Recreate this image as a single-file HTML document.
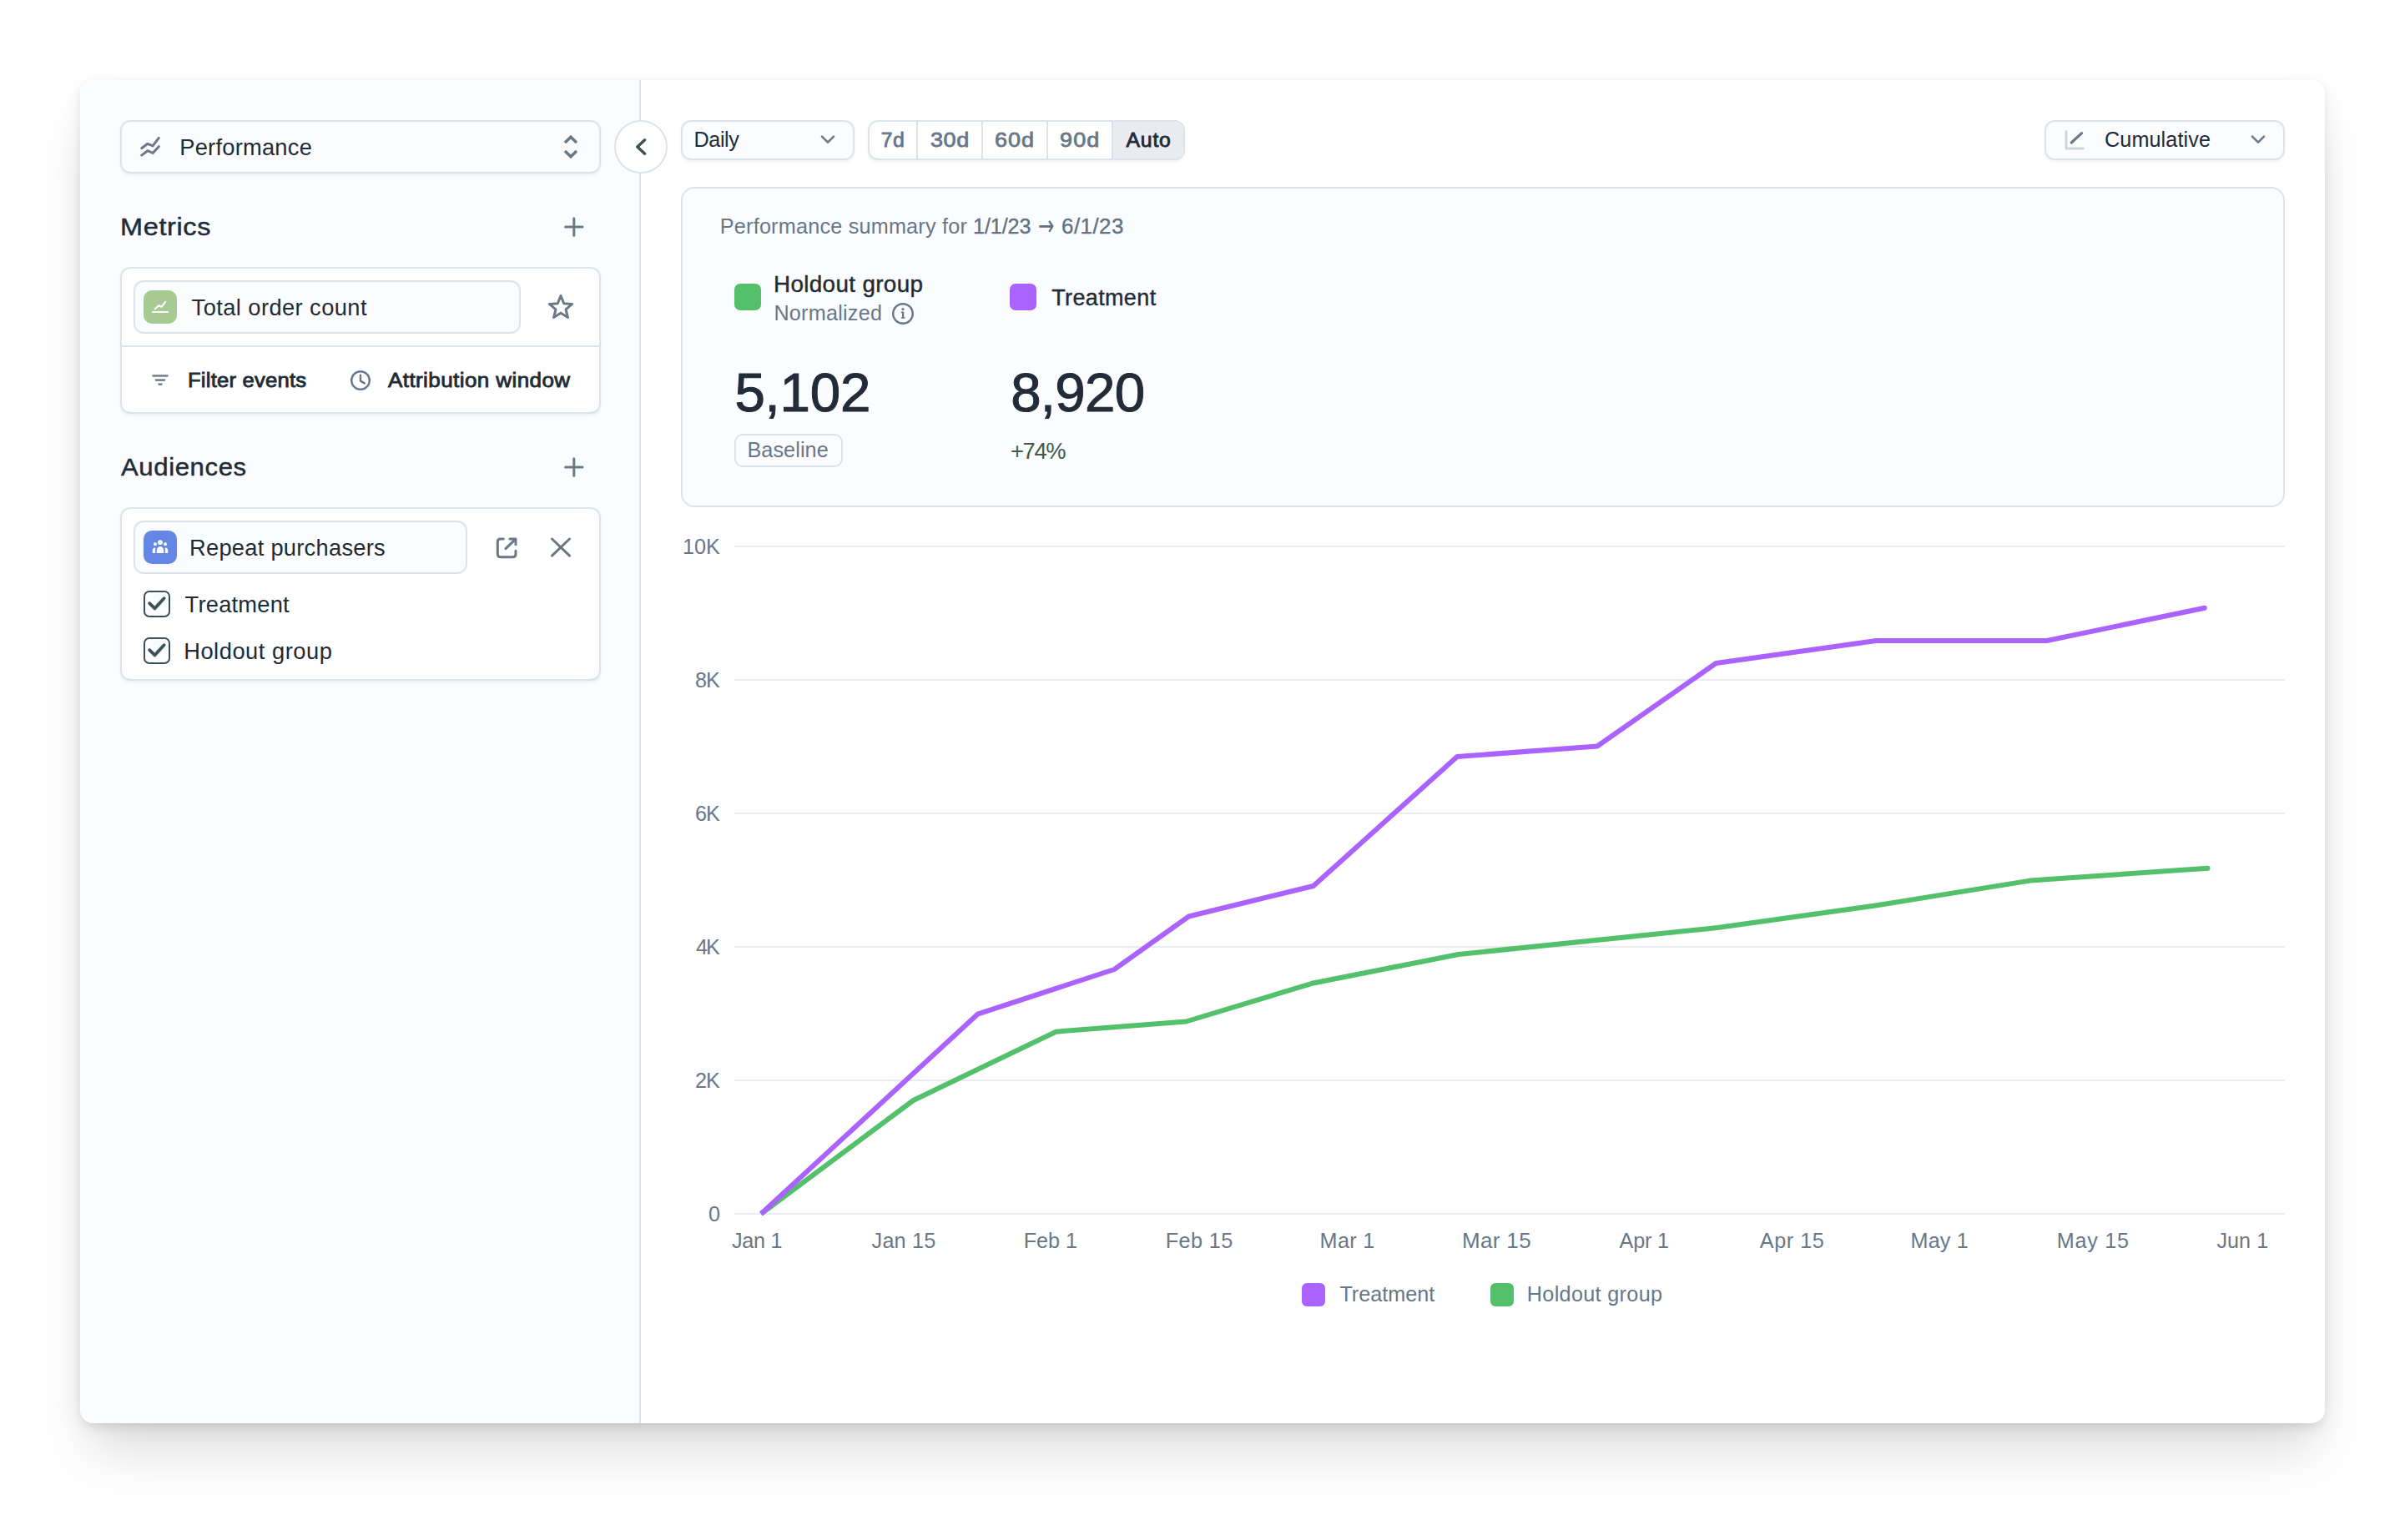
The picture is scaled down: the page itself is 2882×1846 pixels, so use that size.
<!DOCTYPE html><html><head><meta charset="utf-8"><title>Performance</title><style>
html,body{margin:0;padding:0;background:#fff;}
body{width:2882px;height:1846px;position:relative;overflow:hidden;font-family:"Liberation Sans",sans-serif;}
.b{position:absolute;box-sizing:border-box;}
.t{position:absolute;white-space:nowrap;}
.ov{position:absolute;left:0;top:0;}
.bd{border:2px solid #dde3ea;}
</style></head><body>
<div class="b" style="left:96px;top:96px;width:2690px;height:1610px;border-radius:16px;background:#fff;box-shadow:0 4px 10px rgba(0,0,0,.07),0 6px 24px rgba(0,0,0,.06),0 44px 64px -12px rgba(0,0,0,.14);"></div>
<div class="b" style="left:96px;top:96px;width:672px;height:1610px;border-radius:16px 0 0 16px;background:#fbfcfe;border-right:2px solid #dde3ea;"></div>
<div class="b" style="left:144px;top:144px;width:576px;height:64px;border:2px solid #dde3ea;border-radius:12px;background:#fbfcfe;box-shadow:0 2px 3px rgba(16,24,40,0.05);"></div>
<div class="b" style="left:736px;top:144px;width:64px;height:64px;border:2px solid #dde3ea;border-radius:50%;background:#fff;"></div>
<div class="b" style="left:144px;top:320px;width:576px;height:176px;border:2px solid #dde3ea;border-radius:12px;background:#fff;box-shadow:0 2px 3px rgba(16,24,40,0.05);"></div>
<div class="b" style="left:146px;top:414px;width:572px;height:2px;background:#dde3ea;"></div>
<div class="b" style="left:160px;top:336px;width:464px;height:64px;border:2px solid #dde3ea;border-radius:12px;background:#fbfcfe;"></div>
<div class="b" style="left:172px;top:348px;width:40px;height:40px;border-radius:10px;background:#a6ca92;"></div>
<div class="b" style="left:144px;top:608px;width:576px;height:208px;border:2px solid #dde3ea;border-radius:12px;background:#fff;box-shadow:0 2px 3px rgba(16,24,40,0.05);"></div>
<div class="b" style="left:160px;top:624px;width:400px;height:64px;border:2px solid #dde3ea;border-radius:12px;background:#fbfcfe;"></div>
<div class="b" style="left:172px;top:636px;width:40px;height:40px;border-radius:10px;background:#6487e6;"></div>
<div class="b" style="left:172px;top:708px;width:32px;height:32px;border:2.4px solid #3d5159;border-radius:7px;background:#fafbfc;"></div>
<div class="b" style="left:172px;top:764px;width:32px;height:32px;border:2.4px solid #3d5159;border-radius:7px;background:#fafbfc;"></div>
<div class="b" style="left:816px;top:144px;width:208px;height:48px;border:2px solid #dde3ea;border-radius:12px;background:#fbfcfe;box-shadow:0 2px 3px rgba(16,24,40,0.05);"></div>
<div class="b" style="left:1040px;top:144px;width:380px;height:48px;border:2px solid #dde3ea;border-radius:12px;background:#fff;overflow:hidden;box-shadow:0 2px 3px rgba(16,24,40,0.05);"></div>
<div class="b" style="left:1333px;top:146px;width:85px;height:44px;background:#e9edf2;border-radius:0 10px 10px 0;"></div>
<div class="b" style="left:1098px;top:146px;width:2px;height:44px;background:#dde3ea;"></div>
<div class="b" style="left:1176px;top:146px;width:2px;height:44px;background:#dde3ea;"></div>
<div class="b" style="left:1254px;top:146px;width:2px;height:44px;background:#dde3ea;"></div>
<div class="b" style="left:1332px;top:146px;width:2px;height:44px;background:#dde3ea;"></div>
<div class="b" style="left:2450px;top:144px;width:288px;height:48px;border:2px solid #dde3ea;border-radius:12px;background:#fbfcfe;box-shadow:0 2px 3px rgba(16,24,40,0.05);"></div>
<div class="b" style="left:816px;top:224px;width:1922px;height:384px;border:2px solid #dde3ea;border-radius:16px;background:#fbfcfe;"></div>
<div class="b" style="left:880px;top:340px;width:32px;height:32px;border-radius:7px;background:#53c06b;"></div>
<div class="b" style="left:1210px;top:340px;width:32px;height:32px;border-radius:7px;background:#ab63ff;"></div>
<div class="b" style="left:880px;top:520px;width:130px;height:40px;border:2px solid #dde3ea;border-radius:10px;background:#fbfcfe;"></div>
<div class="b" style="left:1560px;top:1538px;width:28px;height:28px;border-radius:6px;background:#ab63ff;"></div>
<div class="b" style="left:1786px;top:1538px;width:28px;height:28px;border-radius:6px;background:#53c06b;"></div>
<svg class="ov" width="2882" height="1846" viewBox="0 0 2882 1846" fill="none">
<rect x="880" y="654" width="1858" height="2" fill="#e8ecf1"/>
<rect x="880" y="814" width="1858" height="2" fill="#e8ecf1"/>
<rect x="880" y="974" width="1858" height="2" fill="#e8ecf1"/>
<rect x="880" y="1134" width="1858" height="2" fill="#e8ecf1"/>
<rect x="880" y="1294" width="1858" height="2" fill="#e8ecf1"/>
<rect x="880" y="1454" width="1858" height="2" fill="#e8ecf1"/>
<polyline points="912,1455 1094.5,1319 1265.4,1236.7 1421.4,1224.5 1572.2,1178.8 1747.8,1144 2058.2,1112 2247.3,1085.5 2432.7,1055.6 2645.5,1040.7" stroke="#53c06b" stroke-width="6" stroke-linejoin="round" stroke-linecap="butt"/>
<polyline points="912,1455 1171.5,1215.7 1335.3,1162 1424.5,1098.5 1573.9,1062 1746.1,907 1914,894.5 2056.3,795 2248.4,768 2452.7,768 2641.8,728.7" stroke="#ab63ff" stroke-width="6" stroke-linejoin="round" stroke-linecap="butt"/>
<circle cx="2641.8" cy="728.7" r="3" fill="#ab63ff"/><circle cx="2645.5" cy="1040.7" r="3" fill="#53c06b"/>
<g stroke="#6b7887" stroke-width="3" stroke-linecap="round" stroke-linejoin="round"><polyline points="169.7,177.7 176.9,172.3 183.1,174.9 190.3,165.4"/><polyline points="169.7,186.1 176.9,180.7 183.1,183.5 190.3,175.7"/></g>
<g stroke="#6b7887" stroke-width="3.4" stroke-linejoin="miter"><polyline points="677,171 684,164.2 691,171"/><polyline points="677,181 684,187.8 691,181"/></g>
<polyline points="772.6,167.8 763.8,176 772.6,184.2" stroke="#3d5159" stroke-width="3.4" stroke-linecap="round" stroke-linejoin="round"/>
<g stroke="#6b7887" stroke-width="3" stroke-linecap="round"><line x1="677.6" y1="272" x2="698" y2="272"/><line x1="687.8" y1="261.8" x2="687.8" y2="282.2"/></g>
<g stroke="#6b7887" stroke-width="3" stroke-linecap="round"><line x1="677.6" y1="560" x2="698" y2="560"/><line x1="687.8" y1="549.8" x2="687.8" y2="570.2"/></g>
<g stroke="#fff" stroke-width="2.2" stroke-linecap="round" stroke-linejoin="round"><polyline points="185.8,370.2 190.3,366.2 193.6,367.8 198.2,361.8"/></g><rect x="182" y="373" width="20" height="2" fill="#fff"/>
<polygon points="672.0,354.5 675.7,363.8 685.7,364.45 677.99,370.85 680.46,380.55 672.0,375.2 663.54,380.55 666.01,370.85 658.3,364.45 668.3,363.8" stroke="#6b7887" stroke-width="3" stroke-linejoin="round"/>
<g stroke="#6b7887" stroke-width="2.4" stroke-linecap="butt"><line x1="182.5" y1="450.5" x2="201.5" y2="450.5"/><line x1="186" y1="455.6" x2="198" y2="455.6"/><line x1="189.6" y1="460.6" x2="194.4" y2="460.6"/></g>
<g stroke="#6b7887" stroke-width="2.4" stroke-linecap="round" stroke-linejoin="round"><circle cx="432" cy="456" r="10.8"/><polyline points="432,449.8 432,456.6 436.8,459.4"/></g>
<g fill="#fff"><circle cx="192" cy="650.2" r="2.9"/><circle cx="185.9" cy="652.3" r="2"/><circle cx="198.1" cy="652.3" r="2"/><path d="M187.8 663.1 V659.5 A4.2 4.4 0 0 1 196.2 659.5 V663.1 Z"/><path d="M182.8 663.1 V659 Q183 657 186.1 656.2 V663.1 Z"/><path d="M201.2 663.1 V659 Q201 657 197.9 656.2 V663.1 Z"/></g>
<g stroke="#6b7887" stroke-width="3" stroke-linecap="round" stroke-linejoin="round"><path d="M603.3 646 H599.8 Q596.3 646 596.3 649.5 V664.2 Q596.3 667.7 599.8 667.7 H614.5 Q618 667.7 618 664.2 V660.2"/><polyline points="611,646 618,646 618,652.8"/><line x1="617.4" y1="646.6" x2="606" y2="657.6"/></g>
<g stroke="#6b7887" stroke-width="3" stroke-linecap="round"><line x1="661.5" y1="646" x2="682.5" y2="666.2"/><line x1="682.5" y1="646" x2="661.5" y2="666.2"/></g>
<polyline points="179.2,723.2 185.4,729.4 196.6,717.2" stroke="#3d5159" stroke-width="3.8" stroke-linecap="round" stroke-linejoin="round"/>
<polyline points="179.2,779.2 185.4,785.4 196.6,773.2" stroke="#3d5159" stroke-width="3.8" stroke-linecap="round" stroke-linejoin="round"/>
<polyline points="985,163.70000000000002 992,170.70000000000002 999,163.70000000000002" stroke="#6b7887" stroke-width="2.6" stroke-linecap="round" stroke-linejoin="round"/>
<polyline points="2699,163.6 2706,170.6 2713,163.6" stroke="#6b7887" stroke-width="2.6" stroke-linecap="round" stroke-linejoin="round"/>
<polyline points="2476,157.5 2476,178 2496.5,178" stroke="#cfd7d6" stroke-width="3" stroke-linecap="round" stroke-linejoin="round"/>
<line x1="2482.2" y1="171" x2="2494.6" y2="159.6" stroke="#6b7887" stroke-width="3.2" stroke-linecap="round"/>
<circle cx="1082" cy="376" r="11.8" stroke="#6b7887" stroke-width="2.4"/><g fill="#6b7887"><circle cx="1082" cy="370.6" r="1.6"/><path d="M1079.8 373.6 H1083.2 V380.2 H1084.6 V381.8 H1079.8 V380.2 H1081 V375.2 H1079.8 Z"/></g>
</svg>
<span class="t" id="t_perf" style="left:215.20px;top:163.00px;font-size:27.3px;line-height:27.3px;letter-spacing:0.240px;color:#212b36;">Performance</span>
<span class="t" id="t_metrics" style="left:143.60px;top:257.00px;font-size:29.8px;line-height:29.8px;letter-spacing:0.583px;color:#212b36;-webkit-text-stroke:0.45px;transform:scaleX(1.09);transform-origin:0 0;">Metrics</span>
<span class="t" id="t_toc" style="left:229.60px;top:355.00px;font-size:27.3px;line-height:27.3px;letter-spacing:0.412px;color:#212b36;">Total order count</span>
<span class="t" id="t_filter" style="left:224.80px;top:444.00px;font-size:24.8px;line-height:24.8px;letter-spacing:0.183px;color:#212b36;-webkit-text-stroke:0.85px;transform:scaleX(1.035);transform-origin:0 0;">Filter events</span>
<span class="t" id="t_attr" style="left:465.40px;top:444.00px;font-size:24.8px;line-height:24.8px;letter-spacing:0.382px;color:#212b36;-webkit-text-stroke:0.85px;transform:scaleX(1.05);transform-origin:0 0;">Attribution window</span>
<span class="t" id="t_aud" style="left:145.20px;top:545.00px;font-size:29.8px;line-height:29.8px;letter-spacing:0.563px;color:#212b36;-webkit-text-stroke:0.45px;transform:scaleX(1.045);transform-origin:0 0;">Audiences</span>
<span class="t" id="t_rp" style="left:227.00px;top:643.00px;font-size:27.3px;line-height:27.3px;letter-spacing:0.256px;color:#212b36;">Repeat purchasers</span>
<span class="t" id="t_treat1" style="left:221.60px;top:711.00px;font-size:27.3px;line-height:27.3px;letter-spacing:0.212px;color:#212b36;">Treatment</span>
<span class="t" id="t_hold1" style="left:220.20px;top:767.00px;font-size:27.3px;line-height:27.3px;letter-spacing:0.517px;color:#212b36;">Holdout group</span>
<span class="t" id="t_daily" style="left:831.60px;top:155.00px;font-size:25.2px;line-height:25.2px;letter-spacing:-0.450px;color:#212b36;">Daily</span>
<span class="t" id="t_b7" style="left:1055.80px;top:156.00px;font-size:24.8px;line-height:24.8px;letter-spacing:0.400px;color:#687788;-webkit-text-stroke:0.8px;">7d</span>
<span class="t" id="t_b30" style="left:1114.80px;top:156.00px;font-size:24.8px;line-height:24.8px;letter-spacing:0.500px;color:#687788;-webkit-text-stroke:0.8px;transform:scaleX(1.09);transform-origin:0 0;">30d</span>
<span class="t" id="t_b60" style="left:1191.60px;top:156.00px;font-size:24.8px;line-height:24.8px;letter-spacing:0.900px;color:#687788;-webkit-text-stroke:0.8px;transform:scaleX(1.09);transform-origin:0 0;">60d</span>
<span class="t" id="t_b90" style="left:1269.80px;top:156.00px;font-size:24.8px;line-height:24.8px;letter-spacing:1.050px;color:#687788;-webkit-text-stroke:0.8px;transform:scaleX(1.09);transform-origin:0 0;">90d</span>
<span class="t" id="t_bauto" style="left:1349.60px;top:156.00px;font-size:24.8px;line-height:24.8px;letter-spacing:0.733px;color:#212b36;-webkit-text-stroke:0.85px;">Auto</span>
<span class="t" id="t_cum" style="left:2522.00px;top:155.00px;font-size:25.2px;line-height:25.2px;letter-spacing:0.100px;color:#212b36;">Cumulative</span>
<span class="t" id="t_psA" style="left:862.80px;top:259.00px;font-size:25.2px;line-height:25.2px;letter-spacing:0.223px;color:#687788;">Performance summary for</span>
<span class="t" id="t_psB" style="left:1166.00px;top:259.00px;font-size:25.2px;line-height:25.2px;letter-spacing:-0.120px;color:#627183;-webkit-text-stroke:0.35px;">1/1/23</span>
<span class="t" id="t_psC" style="left:1272.00px;top:259.00px;font-size:25.2px;line-height:25.2px;letter-spacing:0.440px;color:#627183;-webkit-text-stroke:0.35px;transform:scaleX(1.03);transform-origin:0 0;">6/1/23</span>
<span class="t" id="t_hold2" style="left:927.40px;top:328.00px;font-size:27.0px;line-height:27.0px;letter-spacing:0.342px;color:#212b36;-webkit-text-stroke:0.4px;transform:scaleX(1.03);transform-origin:0 0;">Holdout group</span>
<span class="t" id="t_norm" style="left:927.40px;top:363.00px;font-size:25.2px;line-height:25.2px;letter-spacing:0.244px;color:#687788;">Normalized</span>
<span class="t" id="t_treat2" style="left:1260.20px;top:344.00px;font-size:27.0px;line-height:27.0px;letter-spacing:0.363px;color:#212b36;-webkit-text-stroke:0.4px;">Treatment</span>
<span class="t" id="t_n1" style="left:880.40px;top:438.00px;font-size:65.5px;line-height:65.5px;letter-spacing:-0.200px;color:#232b38;-webkit-text-stroke:1px;">5,102</span>
<span class="t" id="t_n2" style="left:1211.20px;top:438.00px;font-size:65.5px;line-height:65.5px;letter-spacing:-0.750px;color:#232b38;-webkit-text-stroke:1px;">8,920</span>
<span class="t" id="t_base" style="left:895.40px;top:527.00px;font-size:25.2px;line-height:25.2px;letter-spacing:0.100px;color:#687788;">Baseline</span>
<span class="t" id="t_pct" style="left:1211.00px;top:527.00px;font-size:27.3px;line-height:27.3px;letter-spacing:-1.333px;color:#3b5c50;">+74%</span>
<span class="t" id="t_y10" style="left:818.00px;top:643.00px;font-size:25.2px;line-height:25.2px;letter-spacing:0.050px;color:#687788;">10K</span>
<span class="t" id="t_y8" style="left:833.00px;top:803.00px;font-size:25.2px;line-height:25.2px;letter-spacing:-0.900px;color:#687788;">8K</span>
<span class="t" id="t_y6" style="left:833.00px;top:963.00px;font-size:25.2px;line-height:25.2px;letter-spacing:-0.900px;color:#687788;">6K</span>
<span class="t" id="t_y4" style="left:834.00px;top:1123.00px;font-size:25.2px;line-height:25.2px;letter-spacing:-1.900px;color:#687788;">4K</span>
<span class="t" id="t_y2" style="left:833.00px;top:1283.00px;font-size:25.2px;line-height:25.2px;letter-spacing:-0.900px;color:#687788;">2K</span>
<span class="t" id="t_y0" style="left:849.00px;top:1443.00px;font-size:25.2px;line-height:25.2px;letter-spacing:0.000px;color:#687788;">0</span>
<span class="t" id="t_x0" style="left:877.00px;top:1475.00px;font-size:25.2px;line-height:25.2px;letter-spacing:-0.300px;color:#687788;">Jan 1</span>
<span class="t" id="t_x1" style="left:1044.60px;top:1475.00px;font-size:25.2px;line-height:25.2px;letter-spacing:0.200px;color:#687788;">Jan 15</span>
<span class="t" id="t_x2" style="left:1226.80px;top:1475.00px;font-size:25.2px;line-height:25.2px;letter-spacing:-0.075px;color:#687788;">Feb 1</span>
<span class="t" id="t_x3" style="left:1396.80px;top:1475.00px;font-size:25.2px;line-height:25.2px;letter-spacing:0.400px;color:#687788;">Feb 15</span>
<span class="t" id="t_x4" style="left:1581.60px;top:1475.00px;font-size:25.2px;line-height:25.2px;letter-spacing:0.300px;color:#687788;">Mar 1</span>
<span class="t" id="t_x5" style="left:1752.00px;top:1475.00px;font-size:25.2px;line-height:25.2px;letter-spacing:0.360px;color:#687788;transform:scaleX(1.03);transform-origin:0 0;">Mar 15</span>
<span class="t" id="t_x6" style="left:1940.60px;top:1475.00px;font-size:25.2px;line-height:25.2px;letter-spacing:-0.200px;color:#687788;">Apr 1</span>
<span class="t" id="t_x7" style="left:2108.80px;top:1475.00px;font-size:25.2px;line-height:25.2px;letter-spacing:0.540px;color:#687788;">Apr 15</span>
<span class="t" id="t_x8" style="left:2289.60px;top:1475.00px;font-size:25.2px;line-height:25.2px;letter-spacing:0.125px;color:#687788;">May 1</span>
<span class="t" id="t_x9" style="left:2464.80px;top:1475.00px;font-size:25.2px;line-height:25.2px;letter-spacing:0.700px;color:#687788;">May 15</span>
<span class="t" id="t_x10" style="left:2656.40px;top:1475.00px;font-size:25.2px;line-height:25.2px;letter-spacing:0.050px;color:#687788;">Jun 1</span>
<span class="t" id="t_lt" style="left:1605.40px;top:1539.00px;font-size:25.2px;line-height:25.2px;letter-spacing:0.012px;color:#687788;">Treatment</span>
<span class="t" id="t_lh" style="left:1829.80px;top:1539.00px;font-size:25.2px;line-height:25.2px;letter-spacing:0.333px;color:#687788;">Holdout group</span>
<span class="t" id="t_arrow" style="left:1244.4px;top:252.9px;font-family:'DejaVu Sans',sans-serif;font-size:34px;line-height:34px;color:#627183;transform:scaleX(0.68);transform-origin:0 0;">→</span>
</body></html>
